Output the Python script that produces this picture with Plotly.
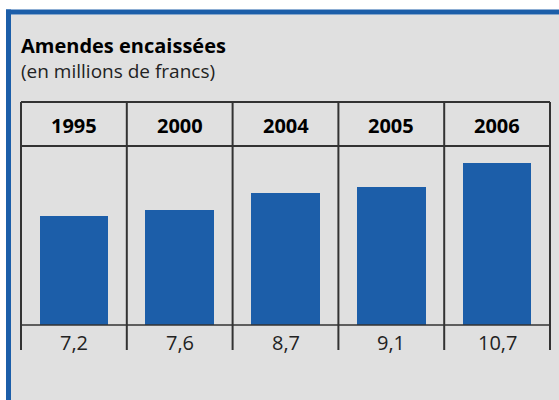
import plotly.graph_objects as go

years = ["1995", "2000", "2004", "2005", "2006"]
values = [7.2, 7.6, 8.7, 9.1, 10.7]
value_labels = ["7,2", "7,6", "8,7", "9,1", "10,7"]
title = "Amendes encaissées"
subtitle = "(en millions de francs)"

W, H = 559, 400
L, R, T, B = 21, 9, 146, 75
PW, PH = W - L - R, H - T - B

def px(x):
    return (x - L) / PW

def py(y):
    return (H - B - y) / PH

BLUE = "#1c5ea9"
GRAY = "#e0e0e0"
LINE = "#333333"
FONT = "Open Sans, Noto Sans, sans-serif"

n = len(years)
fig = go.Figure()
fig.add_trace(go.Bar(
    x=list(range(n)), y=values, width=0.65,
    marker=dict(color=BLUE, line=dict(width=0)),
    hoverinfo="skip",
))

shapes = []
# gray panel and blue frame
shapes.append(dict(type="rect", xref="paper", yref="paper", x0=px(11), x1=px(W + 5), y0=py(H + 5), y1=py(14.5),
                   fillcolor=GRAY, line=dict(width=0), layer="below"))
shapes.append(dict(type="rect", xref="paper", yref="paper", x0=px(6), x1=px(11), y0=py(H + 5), y1=py(9.5),
                   fillcolor=BLUE, line=dict(width=0), layer="below"))
shapes.append(dict(type="rect", xref="paper", yref="paper", x0=px(6), x1=px(W + 5), y0=py(14.5), y1=py(9.5),
                   fillcolor=BLUE, line=dict(width=0), layer="below"))
# table horizontal lines
for yy, w in [(102, 2), (146, 2), (325, 1.5)]:
    shapes.append(dict(type="line", xref="paper", yref="paper", x0=0, x1=1, y0=py(yy), y1=py(yy),
                       line=dict(color=LINE, width=w)))
# vertical dividers
for i in range(n + 1):
    xx = i / n
    shapes.append(dict(type="line", xref="paper", yref="paper", x0=xx, x1=xx, y0=py(350), y1=py(102),
                       line=dict(color=LINE, width=2)))

annotations = [
    dict(text="<b>" + title + "</b>", xref="paper", yref="paper", x=px(19), y=py(46), xanchor="left",
         yanchor="middle", showarrow=False, font=dict(family=FONT, size=20, color="#000")),
    dict(text=subtitle, xref="paper", yref="paper", x=px(19), y=py(71), xanchor="left",
         yanchor="middle", showarrow=False, font=dict(family=FONT, size=19, color="#222")),
]
for i, (yr, vl) in enumerate(zip(years, value_labels)):
    annotations.append(dict(text="<b>" + yr + "</b>", xref="x", yref="paper", x=i, y=py(125),
                            xanchor="center", yanchor="middle", showarrow=False,
                            font=dict(family=FONT, size=20, color="#000")))
    annotations.append(dict(text=vl, xref="x", yref="paper", x=i, y=py(342),
                            xanchor="center", yanchor="middle", showarrow=False,
                            font=dict(family=FONT, size=20, color="#222")))

fig.update_layout(
    width=W, height=H,
    margin=dict(l=L, r=R, t=T, b=B, pad=0),
    paper_bgcolor="white", plot_bgcolor="rgba(0,0,0,0)",
    showlegend=False,
    bargap=0,
    shapes=shapes, annotations=annotations,
    xaxis=dict(range=[-0.5, n - 0.5], showgrid=False, zeroline=False, showticklabels=False,
               ticks="", showline=False, fixedrange=True),
    yaxis=dict(range=[0, 11.8], showgrid=False, zeroline=False, showticklabels=False,
               ticks="", showline=False, fixedrange=True),
)

fig.write_html("out.html", config={"displayModeBar": False},
               post_script="document.body.style.margin='0';document.body.style.overflow='hidden';")
